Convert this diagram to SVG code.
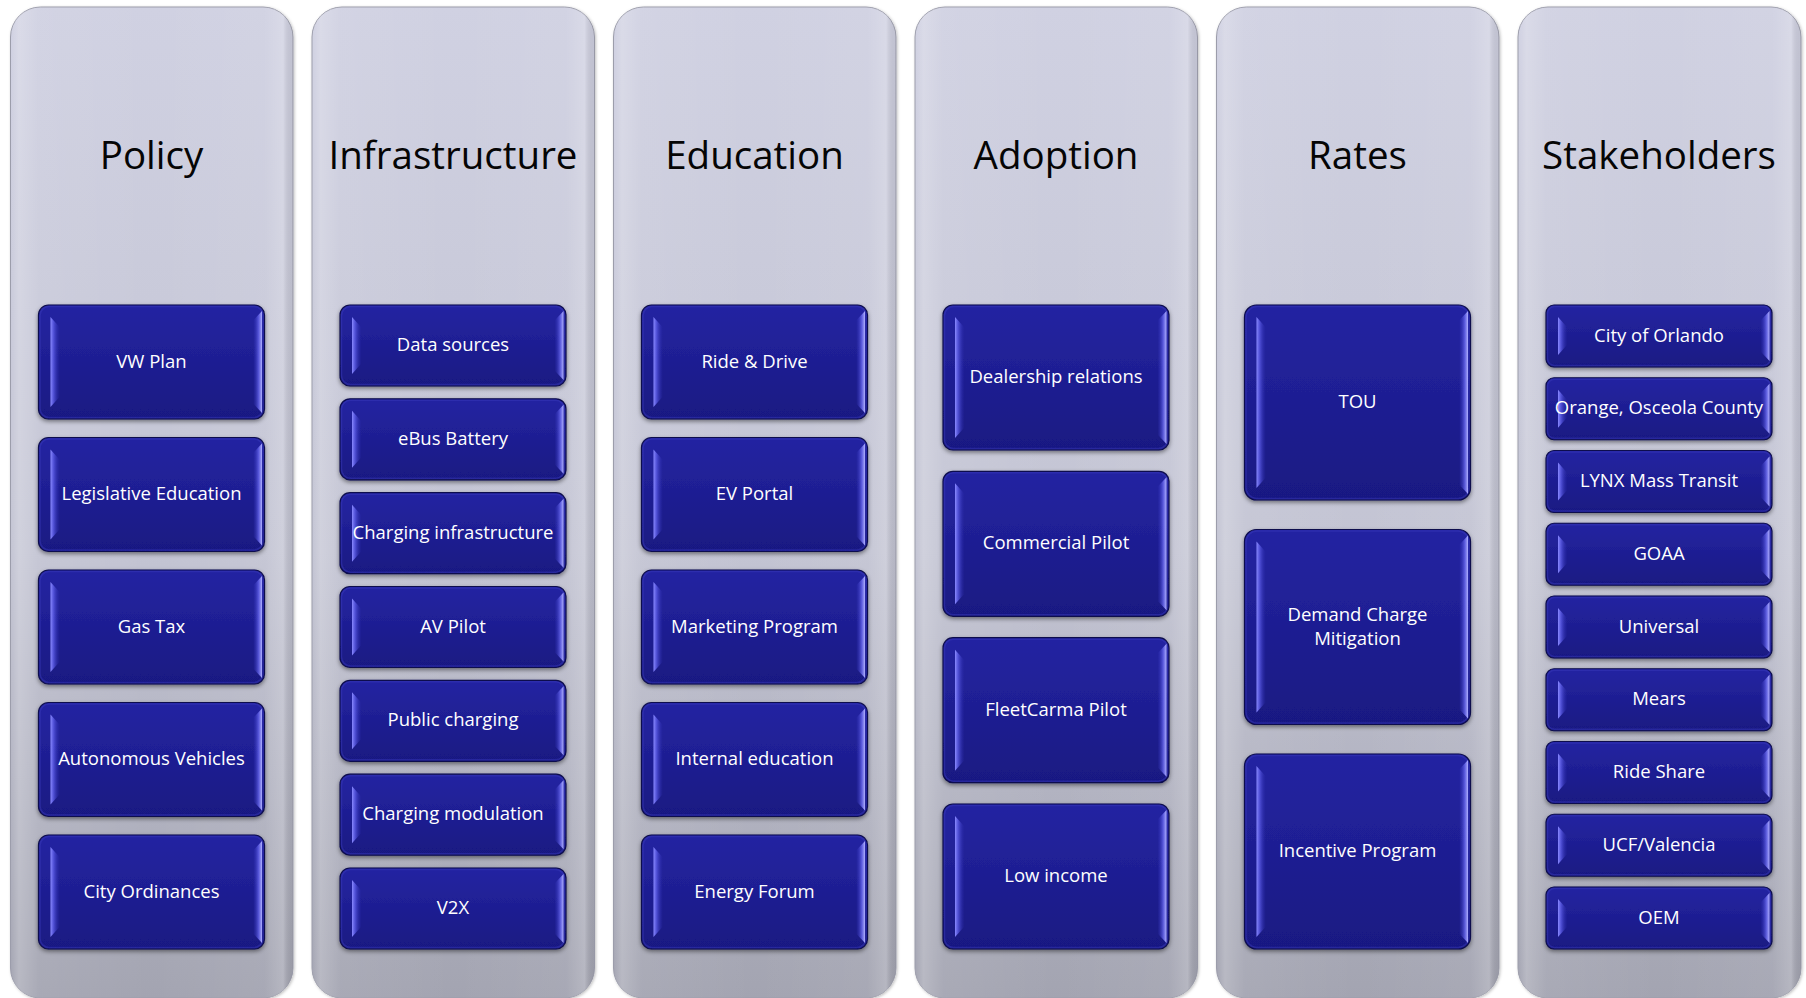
<svg xmlns="http://www.w3.org/2000/svg" width="1806" height="998" viewBox="0 0 1806 998">
  <defs>
    <linearGradient id="gCol" x1="0" y1="0" x2="0" y2="1">
      <stop offset="0" stop-color="#d0d1e2"/>
      <stop offset="0.55" stop-color="#c3c4d3"/>
      <stop offset="1" stop-color="#a3a4b1"/>
    </linearGradient>
    <linearGradient id="gColSide" x1="0" y1="0" x2="1" y2="0">
      <stop offset="0" stop-color="#ffffff" stop-opacity="0"/>
      <stop offset="0.03" stop-color="#ffffff" stop-opacity="0.22"/>
      <stop offset="0.1" stop-color="#ffffff" stop-opacity="0.06"/>
      <stop offset="0.5" stop-color="#ffffff" stop-opacity="0"/>
      <stop offset="0.9" stop-color="#ffffff" stop-opacity="0.05"/>
      <stop offset="0.965" stop-color="#ffffff" stop-opacity="0.2"/>
      <stop offset="1" stop-color="#000000" stop-opacity="0.06"/>
    </linearGradient>
    <linearGradient id="gBox" x1="0" y1="0" x2="0" y2="1">
      <stop offset="0" stop-color="#2424a2"/>
      <stop offset="0.45" stop-color="#1f1f94"/>
      <stop offset="1" stop-color="#191982"/>
    </linearGradient>
    <linearGradient id="gHlL" x1="0" y1="0" x2="1" y2="0">
      <stop offset="0" stop-color="#8a8aff" stop-opacity="1"/>
      <stop offset="0.35" stop-color="#5c5ce6" stop-opacity="0.8"/>
      <stop offset="1" stop-color="#2c2cb0" stop-opacity="0.1"/>
    </linearGradient>
    <linearGradient id="gHlR" x1="0" y1="0" x2="1" y2="0">
      <stop offset="0" stop-color="#3434c0" stop-opacity="0.1"/>
      <stop offset="0.6" stop-color="#6c6cf2" stop-opacity="0.75"/>
      <stop offset="1" stop-color="#b0b0ff" stop-opacity="1"/>
    </linearGradient>
    <filter id="boxShadow" x="-10%" y="-10%" width="120%" height="130%">
      <feDropShadow dx="0" dy="2" stdDeviation="2" flood-color="#000" flood-opacity="0.45"/>
    </filter>
    <filter id="colShadow" x="-5%" y="-5%" width="110%" height="110%">
      <feDropShadow dx="1" dy="1" stdDeviation="1.5" flood-color="#000" flood-opacity="0.25"/>
    </filter>
  </defs>
  <style>
    .col { fill: url(#gCol); stroke: #9c9dab; stroke-width: 1; filter: url(#colShadow); }
    .colside { fill: url(#gColSide); }
    .title { font-family: "Open Sans", "Noto Sans", sans-serif; font-size: 38.5px; fill: #050505; text-anchor: middle; }
    .box { fill: url(#gBox); stroke: #0d0d4d; stroke-width: 1.2; filter: url(#boxShadow); }
    .rim { fill: none; stroke: #3c3cbc; stroke-opacity: 0.45; stroke-width: 1.5; }
    .hl-l { fill: url(#gHlL); }
    .hl-r { fill: url(#gHlR); }
    .lbl { font-family: "Open Sans", "Noto Sans", sans-serif; font-size: 18.5px; fill: #ffffff; text-anchor: middle; }
  </style>
  <rect width="1806" height="998" fill="#ffffff"/>

  <!-- Column panels with headings -->
  <g id="col-policy">
    <rect class="col" x="10.5" y="7" width="282.5" height="991" rx="30"/>
    <rect class="colside" x="10.5" y="7" width="282.5" height="991" rx="30"/>
    <text class="title" x="151.5" y="169">Policy</text>
  </g>
  <g id="col-infrastructure">
    <rect class="col" x="312" y="7" width="282.5" height="991" rx="30"/>
    <rect class="colside" x="312" y="7" width="282.5" height="991" rx="30"/>
    <text class="title" x="453" y="169">Infrastructure</text>
  </g>
  <g id="col-education">
    <rect class="col" x="613.5" y="7" width="282.5" height="991" rx="30"/>
    <rect class="colside" x="613.5" y="7" width="282.5" height="991" rx="30"/>
    <text class="title" x="754.5" y="169">Education</text>
  </g>
  <g id="col-adoption">
    <rect class="col" x="915" y="7" width="282.5" height="991" rx="30"/>
    <rect class="colside" x="915" y="7" width="282.5" height="991" rx="30"/>
    <text class="title" x="1056" y="169">Adoption</text>
  </g>
  <g id="col-rates">
    <rect class="col" x="1216.5" y="7" width="282.5" height="991" rx="30"/>
    <rect class="colside" x="1216.5" y="7" width="282.5" height="991" rx="30"/>
    <text class="title" x="1357.5" y="169">Rates</text>
  </g>
  <g id="col-stakeholders">
    <rect class="col" x="1518" y="7" width="283" height="991" rx="30"/>
    <rect class="colside" x="1518" y="7" width="283" height="991" rx="30"/>
    <text class="title" x="1659" y="169">Stakeholders</text>
  </g>

  <!-- Policy items (h=114) -->
  <g id="policy-vw-plan" transform="translate(38.5,305)">
    <rect class="box" width="226" height="114" rx="10"/><rect class="rim" x="1.5" y="1.5" width="223" height="111" rx="9"/>
    <path class="hl-l" d="M12 12 L21 22 V92 L12 102 Z"/><path class="hl-r" d="M223.5 6 V108 L215 99 V15 Z"/>
    <text class="lbl" x="113" y="62.5">VW Plan</text>
  </g>
  <g id="policy-legislative-education" transform="translate(38.5,437.5)">
    <rect class="box" width="226" height="114" rx="10"/><rect class="rim" x="1.5" y="1.5" width="223" height="111" rx="9"/>
    <path class="hl-l" d="M12 12 L21 22 V92 L12 102 Z"/><path class="hl-r" d="M223.5 6 V108 L215 99 V15 Z"/>
    <text class="lbl" x="113" y="62.5">Legislative Education</text>
  </g>
  <g id="policy-gas-tax" transform="translate(38.5,570)">
    <rect class="box" width="226" height="114" rx="10"/><rect class="rim" x="1.5" y="1.5" width="223" height="111" rx="9"/>
    <path class="hl-l" d="M12 12 L21 22 V92 L12 102 Z"/><path class="hl-r" d="M223.5 6 V108 L215 99 V15 Z"/>
    <text class="lbl" x="113" y="62.5">Gas Tax</text>
  </g>
  <g id="policy-autonomous-vehicles" transform="translate(38.5,702.5)">
    <rect class="box" width="226" height="114" rx="10"/><rect class="rim" x="1.5" y="1.5" width="223" height="111" rx="9"/>
    <path class="hl-l" d="M12 12 L21 22 V92 L12 102 Z"/><path class="hl-r" d="M223.5 6 V108 L215 99 V15 Z"/>
    <text class="lbl" x="113" y="62.5">Autonomous Vehicles</text>
  </g>
  <g id="policy-city-ordinances" transform="translate(38.5,835)">
    <rect class="box" width="226" height="114" rx="10"/><rect class="rim" x="1.5" y="1.5" width="223" height="111" rx="9"/>
    <path class="hl-l" d="M12 12 L21 22 V92 L12 102 Z"/><path class="hl-r" d="M223.5 6 V108 L215 99 V15 Z"/>
    <text class="lbl" x="113" y="62.5">City Ordinances</text>
  </g>

  <!-- Infrastructure items (h=81) -->
  <g id="infra-data-sources" transform="translate(340,305)">
    <rect class="box" width="226" height="81" rx="10"/><rect class="rim" x="1.5" y="1.5" width="223" height="78" rx="9"/>
    <path class="hl-l" d="M12 12 L21 22 V59 L12 69 Z"/><path class="hl-r" d="M223.5 6 V75 L215 66 V15 Z"/>
    <text class="lbl" x="113" y="46">Data sources</text>
  </g>
  <g id="infra-ebus-battery" transform="translate(340,398.8)">
    <rect class="box" width="226" height="81" rx="10"/><rect class="rim" x="1.5" y="1.5" width="223" height="78" rx="9"/>
    <path class="hl-l" d="M12 12 L21 22 V59 L12 69 Z"/><path class="hl-r" d="M223.5 6 V75 L215 66 V15 Z"/>
    <text class="lbl" x="113" y="46">eBus Battery</text>
  </g>
  <g id="infra-charging-infrastructure" transform="translate(340,492.7)">
    <rect class="box" width="226" height="81" rx="10"/><rect class="rim" x="1.5" y="1.5" width="223" height="78" rx="9"/>
    <path class="hl-l" d="M12 12 L21 22 V59 L12 69 Z"/><path class="hl-r" d="M223.5 6 V75 L215 66 V15 Z"/>
    <text class="lbl" x="113" y="46">Charging infrastructure</text>
  </g>
  <g id="infra-av-pilot" transform="translate(340,586.5)">
    <rect class="box" width="226" height="81" rx="10"/><rect class="rim" x="1.5" y="1.5" width="223" height="78" rx="9"/>
    <path class="hl-l" d="M12 12 L21 22 V59 L12 69 Z"/><path class="hl-r" d="M223.5 6 V75 L215 66 V15 Z"/>
    <text class="lbl" x="113" y="46">AV Pilot</text>
  </g>
  <g id="infra-public-charging" transform="translate(340,680.3)">
    <rect class="box" width="226" height="81" rx="10"/><rect class="rim" x="1.5" y="1.5" width="223" height="78" rx="9"/>
    <path class="hl-l" d="M12 12 L21 22 V59 L12 69 Z"/><path class="hl-r" d="M223.5 6 V75 L215 66 V15 Z"/>
    <text class="lbl" x="113" y="46">Public charging</text>
  </g>
  <g id="infra-charging-modulation" transform="translate(340,774.2)">
    <rect class="box" width="226" height="81" rx="10"/><rect class="rim" x="1.5" y="1.5" width="223" height="78" rx="9"/>
    <path class="hl-l" d="M12 12 L21 22 V59 L12 69 Z"/><path class="hl-r" d="M223.5 6 V75 L215 66 V15 Z"/>
    <text class="lbl" x="113" y="46">Charging modulation</text>
  </g>
  <g id="infra-v2x" transform="translate(340,868)">
    <rect class="box" width="226" height="81" rx="10"/><rect class="rim" x="1.5" y="1.5" width="223" height="78" rx="9"/>
    <path class="hl-l" d="M12 12 L21 22 V59 L12 69 Z"/><path class="hl-r" d="M223.5 6 V75 L215 66 V15 Z"/>
    <text class="lbl" x="113" y="46">V2X</text>
  </g>

  <!-- Education items (h=114) -->
  <g id="edu-ride-drive" transform="translate(641.5,305)">
    <rect class="box" width="226" height="114" rx="10"/><rect class="rim" x="1.5" y="1.5" width="223" height="111" rx="9"/>
    <path class="hl-l" d="M12 12 L21 22 V92 L12 102 Z"/><path class="hl-r" d="M223.5 6 V108 L215 99 V15 Z"/>
    <text class="lbl" x="113" y="62.5">Ride &amp; Drive</text>
  </g>
  <g id="edu-ev-portal" transform="translate(641.5,437.5)">
    <rect class="box" width="226" height="114" rx="10"/><rect class="rim" x="1.5" y="1.5" width="223" height="111" rx="9"/>
    <path class="hl-l" d="M12 12 L21 22 V92 L12 102 Z"/><path class="hl-r" d="M223.5 6 V108 L215 99 V15 Z"/>
    <text class="lbl" x="113" y="62.5">EV Portal</text>
  </g>
  <g id="edu-marketing-program" transform="translate(641.5,570)">
    <rect class="box" width="226" height="114" rx="10"/><rect class="rim" x="1.5" y="1.5" width="223" height="111" rx="9"/>
    <path class="hl-l" d="M12 12 L21 22 V92 L12 102 Z"/><path class="hl-r" d="M223.5 6 V108 L215 99 V15 Z"/>
    <text class="lbl" x="113" y="62.5">Marketing Program</text>
  </g>
  <g id="edu-internal-education" transform="translate(641.5,702.5)">
    <rect class="box" width="226" height="114" rx="10"/><rect class="rim" x="1.5" y="1.5" width="223" height="111" rx="9"/>
    <path class="hl-l" d="M12 12 L21 22 V92 L12 102 Z"/><path class="hl-r" d="M223.5 6 V108 L215 99 V15 Z"/>
    <text class="lbl" x="113" y="62.5">Internal education</text>
  </g>
  <g id="edu-energy-forum" transform="translate(641.5,835)">
    <rect class="box" width="226" height="114" rx="10"/><rect class="rim" x="1.5" y="1.5" width="223" height="111" rx="9"/>
    <path class="hl-l" d="M12 12 L21 22 V92 L12 102 Z"/><path class="hl-r" d="M223.5 6 V108 L215 99 V15 Z"/>
    <text class="lbl" x="113" y="62.5">Energy Forum</text>
  </g>

  <!-- Adoption items (h=145) -->
  <g id="adopt-dealership-relations" transform="translate(943,305)">
    <rect class="box" width="226" height="145" rx="10"/><rect class="rim" x="1.5" y="1.5" width="223" height="142" rx="9"/>
    <path class="hl-l" d="M12 12 L21 22 V123 L12 133 Z"/><path class="hl-r" d="M223.5 6 V139 L215 130 V15 Z"/>
    <text class="lbl" x="113" y="78">Dealership relations</text>
  </g>
  <g id="adopt-commercial-pilot" transform="translate(943,471.3)">
    <rect class="box" width="226" height="145" rx="10"/><rect class="rim" x="1.5" y="1.5" width="223" height="142" rx="9"/>
    <path class="hl-l" d="M12 12 L21 22 V123 L12 133 Z"/><path class="hl-r" d="M223.5 6 V139 L215 130 V15 Z"/>
    <text class="lbl" x="113" y="78">Commercial Pilot</text>
  </g>
  <g id="adopt-fleetcarma-pilot" transform="translate(943,637.7)">
    <rect class="box" width="226" height="145" rx="10"/><rect class="rim" x="1.5" y="1.5" width="223" height="142" rx="9"/>
    <path class="hl-l" d="M12 12 L21 22 V123 L12 133 Z"/><path class="hl-r" d="M223.5 6 V139 L215 130 V15 Z"/>
    <text class="lbl" x="113" y="78">FleetCarma Pilot</text>
  </g>
  <g id="adopt-low-income" transform="translate(943,804)">
    <rect class="box" width="226" height="145" rx="10"/><rect class="rim" x="1.5" y="1.5" width="223" height="142" rx="9"/>
    <path class="hl-l" d="M12 12 L21 22 V123 L12 133 Z"/><path class="hl-r" d="M223.5 6 V139 L215 130 V15 Z"/>
    <text class="lbl" x="113" y="78">Low income</text>
  </g>

  <!-- Rates items (h=195) -->
  <g id="rates-tou" transform="translate(1244.5,305)">
    <rect class="box" width="226" height="195" rx="12"/><rect class="rim" x="1.5" y="1.5" width="223" height="192" rx="11"/>
    <path class="hl-l" d="M12 12 L21 22 V173 L12 183 Z"/><path class="hl-r" d="M223.5 6 V189 L215 180 V15 Z"/>
    <text class="lbl" x="113" y="103">TOU</text>
  </g>
  <g id="rates-demand-charge-mitigation" transform="translate(1244.5,529.5)">
    <rect class="box" width="226" height="195" rx="12"/><rect class="rim" x="1.5" y="1.5" width="223" height="192" rx="11"/>
    <path class="hl-l" d="M12 12 L21 22 V173 L12 183 Z"/><path class="hl-r" d="M223.5 6 V189 L215 180 V15 Z"/>
    <text class="lbl" x="113" y="91.5">Demand Charge</text>
    <text class="lbl" x="113" y="115.5">Mitigation</text>
  </g>
  <g id="rates-incentive-program" transform="translate(1244.5,754)">
    <rect class="box" width="226" height="195" rx="12"/><rect class="rim" x="1.5" y="1.5" width="223" height="192" rx="11"/>
    <path class="hl-l" d="M12 12 L21 22 V173 L12 183 Z"/><path class="hl-r" d="M223.5 6 V189 L215 180 V15 Z"/>
    <text class="lbl" x="113" y="103">Incentive Program</text>
  </g>

  <!-- Stakeholder items (h=62) -->
  <g id="stk-city-of-orlando" transform="translate(1546,305)">
    <rect class="box" width="226" height="62" rx="8"/><rect class="rim" x="1.5" y="1.5" width="223" height="59" rx="7"/>
    <path class="hl-l" d="M12 12 L21 22 V40 L12 50 Z"/><path class="hl-r" d="M223.5 6 V56 L215 47 V15 Z"/>
    <text class="lbl" x="113" y="36.5">City of Orlando</text>
  </g>
  <g id="stk-orange-osceola" transform="translate(1546,377.75)">
    <rect class="box" width="226" height="62" rx="8"/><rect class="rim" x="1.5" y="1.5" width="223" height="59" rx="7"/>
    <path class="hl-l" d="M12 12 L21 22 V40 L12 50 Z"/><path class="hl-r" d="M223.5 6 V56 L215 47 V15 Z"/>
    <text class="lbl" x="113" y="36.5">Orange, Osceola County</text>
  </g>
  <g id="stk-lynx" transform="translate(1546,450.5)">
    <rect class="box" width="226" height="62" rx="8"/><rect class="rim" x="1.5" y="1.5" width="223" height="59" rx="7"/>
    <path class="hl-l" d="M12 12 L21 22 V40 L12 50 Z"/><path class="hl-r" d="M223.5 6 V56 L215 47 V15 Z"/>
    <text class="lbl" x="113" y="36.5">LYNX Mass Transit</text>
  </g>
  <g id="stk-goaa" transform="translate(1546,523.25)">
    <rect class="box" width="226" height="62" rx="8"/><rect class="rim" x="1.5" y="1.5" width="223" height="59" rx="7"/>
    <path class="hl-l" d="M12 12 L21 22 V40 L12 50 Z"/><path class="hl-r" d="M223.5 6 V56 L215 47 V15 Z"/>
    <text class="lbl" x="113" y="36.5">GOAA</text>
  </g>
  <g id="stk-universal" transform="translate(1546,596)">
    <rect class="box" width="226" height="62" rx="8"/><rect class="rim" x="1.5" y="1.5" width="223" height="59" rx="7"/>
    <path class="hl-l" d="M12 12 L21 22 V40 L12 50 Z"/><path class="hl-r" d="M223.5 6 V56 L215 47 V15 Z"/>
    <text class="lbl" x="113" y="36.5">Universal</text>
  </g>
  <g id="stk-mears" transform="translate(1546,668.75)">
    <rect class="box" width="226" height="62" rx="8"/><rect class="rim" x="1.5" y="1.5" width="223" height="59" rx="7"/>
    <path class="hl-l" d="M12 12 L21 22 V40 L12 50 Z"/><path class="hl-r" d="M223.5 6 V56 L215 47 V15 Z"/>
    <text class="lbl" x="113" y="36.5">Mears</text>
  </g>
  <g id="stk-ride-share" transform="translate(1546,741.5)">
    <rect class="box" width="226" height="62" rx="8"/><rect class="rim" x="1.5" y="1.5" width="223" height="59" rx="7"/>
    <path class="hl-l" d="M12 12 L21 22 V40 L12 50 Z"/><path class="hl-r" d="M223.5 6 V56 L215 47 V15 Z"/>
    <text class="lbl" x="113" y="36.5">Ride Share</text>
  </g>
  <g id="stk-ucf-valencia" transform="translate(1546,814.25)">
    <rect class="box" width="226" height="62" rx="8"/><rect class="rim" x="1.5" y="1.5" width="223" height="59" rx="7"/>
    <path class="hl-l" d="M12 12 L21 22 V40 L12 50 Z"/><path class="hl-r" d="M223.5 6 V56 L215 47 V15 Z"/>
    <text class="lbl" x="113" y="36.5">UCF/Valencia</text>
  </g>
  <g id="stk-oem" transform="translate(1546,887)">
    <rect class="box" width="226" height="62" rx="8"/><rect class="rim" x="1.5" y="1.5" width="223" height="59" rx="7"/>
    <path class="hl-l" d="M12 12 L21 22 V40 L12 50 Z"/><path class="hl-r" d="M223.5 6 V56 L215 47 V15 Z"/>
    <text class="lbl" x="113" y="36.5">OEM</text>
  </g>
</svg>
